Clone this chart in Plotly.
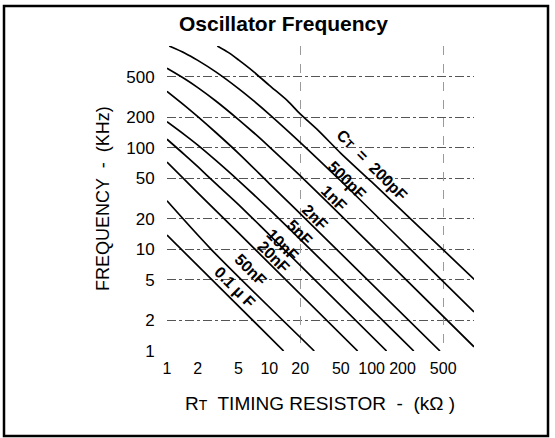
import math
import plotly.graph_objects as go

# ---------------- data ----------------
cap_names = ["200pF", "500pF", "1nF", "2nF", "5nF", "10nF", "20nF", "50nF", "0.1uF"]

# RT (kOhm) and frequency (kHz) points along each curve
R_200pF = [3.1, 4, 5, 7, 10, 15, 20, 30, 50, 100, 1000]
F_200pF = [1000, 860, 730, 560, 410, 290, 215, 148, 88, 46, 5.1]

R_500pF = [1.05, 1.5, 2, 3, 5, 7, 10, 20, 50, 1000]
F_500pF = [1000, 850, 722, 556, 381, 290, 213, 113, 47, 2.42]

R_1nF = [1, 1.5, 2, 3, 5, 7, 10, 20, 50, 1000]
F_1nF = [605, 474, 390, 288, 189, 141, 102, 53, 21.6, 1.1]

R_2nF = [1, 1.5, 2, 3, 5, 10, 20, 465]
F_2nF = [358, 258, 202, 141, 88, 44.4, 22.5, 1]

R_5nF = [1, 1.5, 2, 3, 5, 10, 258]
F_5nF = [180, 133, 106, 75, 47.5, 24.7, 1]

R_10nF = [1, 1.5, 2, 3, 5, 10, 140]
F_10nF = [121, 84.5, 65, 44.3, 27.6, 13.9, 1]

R_20nF = [1, 2, 5, 73]
F_20nF = [72, 36, 14.5, 1]

R_50nF = [1, 2.7, 27.5]
F_50nF = [30, 10, 1]

R_01uF = [1, 13.8]
F_01uF = [13.8, 1]

x_tickvals = [1, 2, 5, 10, 20, 50, 100, 200, 500, 1000]
x_ticktext = ["1", "2", "5", "10", "20", "50", "100", "200", "500", ""]
y_tickvals = [1, 2, 5, 10, 20, 50, 100, 200, 500, 1000]
y_ticktext = ["1", "2", "5", "10", "20", "50", "100", "200", "500", ""]
x_grid_vals = [1, 20, 500, 1000]

curve_texts = ["C<span style='font-size:12px'>T</span>  =  200pF", "500pF", "1nF", "2nF",
               "5nF", "10nF", "20nF", "50nF", "0.1 µ F"]

# ---------------- styling / placement ----------------
# label anchors (R, f) in data units
label_anchor = [(102, 67.5), (58, 48), (43.4, 31.9), (28.2, 20.8), (19.7, 14.5),
                (13.7, 11.0), (11.2, 8.4), (6.67, 6.25), (4.65, 4.26)]

FONT = "Liberation Sans, Arial, Helvetica, sans-serif"

curves = [(R_200pF, F_200pF), (R_500pF, F_500pF), (R_1nF, F_1nF), (R_2nF, F_2nF),
          (R_5nF, F_5nF), (R_10nF, F_10nF), (R_20nF, F_20nF), (R_50nF, F_50nF),
          (R_01uF, F_01uF)]

fig = go.Figure()
for name, (R, F) in zip(cap_names, curves):
    fig.add_trace(go.Scatter(x=R, y=F, mode="lines", name=name,
                             line=dict(color="black", width=1.7, shape="spline", smoothing=0.8),
                             showlegend=False, hoverinfo="skip"))

# invisible trace to activate the secondary x axis (vertical grid)
fig.add_trace(go.Scatter(x=[1, 1000], y=[1, 1000], xaxis="x2", mode="markers",
                         marker=dict(opacity=0), showlegend=False, hoverinfo="skip"))

W, H = 555, 438
L, R_, T, B = 167, 81, 46, 87
pw, ph = W - L - R_, H - T - B

def px2paper(px, py):
    return (px - L) / pw, (H - B - py) / ph

annotations = []
for txt, (ra, fa) in zip(curve_texts, label_anchor):
    annotations.append(dict(x=math.log10(ra), y=math.log10(fa), xref="x", yref="y",
                            text="<b>" + txt + "</b>", showarrow=False, textangle=45,
                            xanchor="center", yanchor="middle",
                            font=dict(family=FONT, size=16, color="black")))

tx, ty = px2paper(283, 23)
annotations.append(dict(x=tx, y=ty, xref="paper", yref="paper", text="<b>Oscillator Frequency</b>",
                        xanchor="center", yanchor="middle",
                        showarrow=False, font=dict(family=FONT, size=21, color="black")))
ax_, ay_ = px2paper(320, 403)
annotations.append(dict(x=ax_, y=ay_, xref="paper", yref="paper",
                        text="R<span style='font-size:14px'>T</span>  TIMING RESISTOR  -  (kΩ )",
                        xanchor="center", yanchor="middle",
                        showarrow=False, font=dict(family=FONT, size=19, color="black")))
yx_, yy_ = px2paper(103, 199)
annotations.append(dict(x=yx_, y=yy_, xref="paper", yref="paper", text="FREQUENCY  -  (KHz)",
                        xanchor="center", yanchor="middle",
                        showarrow=False, textangle=-90, font=dict(family=FONT, size=18, color="black")))

fx0, fy0 = px2paper(4, 436)
fx1, fy1 = px2paper(548, 6)

fig.update_layout(
    width=W, height=H,
    margin=dict(l=L, r=R_, t=T, b=B),
    paper_bgcolor="white", plot_bgcolor="white",
    font=dict(family=FONT, color="black"),
    xaxis=dict(type="log", range=[0, 3], tickvals=x_tickvals, ticktext=x_ticktext,
               tickangle=0,
               showgrid=False, zeroline=False, showline=False,
               ticks="outside", ticklen=3, tickcolor="rgba(0,0,0,0)",
               tickfont=dict(size=16, family=FONT, color="black")),
    xaxis2=dict(type="log", range=[0, 3], overlaying="x", tickvals=x_grid_vals,
                showticklabels=False, showgrid=True, gridcolor="#9a9a9a", gridwidth=1,
                griddash="dash", zeroline=False, showline=False, ticks=""),
    yaxis=dict(type="log", range=[0, 3], tickvals=y_tickvals, ticktext=y_ticktext,
               showgrid=True, gridcolor="#555555", gridwidth=1, griddash="dashdot",
               zeroline=False, showline=False,
               ticks="outside", ticklen=8, tickcolor="rgba(0,0,0,0)",
               tickfont=dict(size=17, family=FONT, color="black")),
    annotations=annotations,
    shapes=[dict(type="rect", xref="paper", yref="paper", x0=fx0, y0=fy0, x1=fx1, y1=fy1,
                 line=dict(color="black", width=2.5))],
)

fig.write_html("out.html", config={"displayModeBar": False},
               post_script="document.body.style.margin='0px';document.body.style.overflow='hidden';")
